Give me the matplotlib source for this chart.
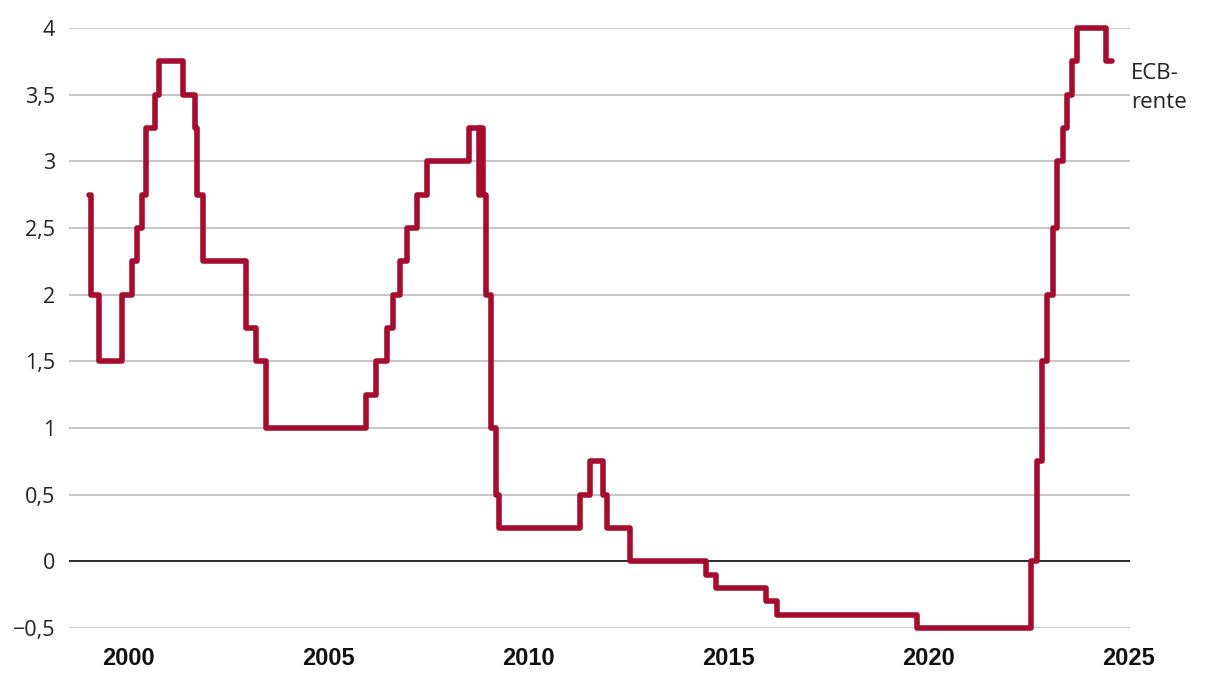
import pandas as pd
import matplotlib
matplotlib.use("Agg")
import matplotlib.pyplot as plt
import matplotlib.dates as mdates
from matplotlib.ticker import FuncFormatter

# ECB deposit rate, change dates and new level
dates = [
    "1999-01-01", "1999-01-22", "1999-04-09", "1999-11-05", "2000-02-04",
    "2000-03-17", "2000-04-28", "2000-06-09", "2000-09-01", "2000-10-06",
    "2001-05-11", "2001-08-31", "2001-09-18", "2001-11-09", "2002-12-06",
    "2003-03-07", "2003-06-06", "2005-12-06", "2006-03-08", "2006-06-15",
    "2006-08-09", "2006-10-11", "2006-12-13", "2007-03-14", "2007-06-13",
    "2008-07-09", "2008-10-08", "2008-10-09", "2008-11-12", "2008-12-10",
    "2009-01-21", "2009-03-11", "2009-04-08", "2011-04-13", "2011-07-13",
    "2011-11-09", "2011-12-14", "2012-07-11", "2014-06-11", "2014-09-10",
    "2015-12-09", "2016-03-16", "2019-09-18", "2022-07-27", "2022-09-14",
    "2022-11-02", "2022-12-21", "2023-02-08", "2023-03-22", "2023-05-10",
    "2023-06-21", "2023-08-02", "2023-09-20", "2024-06-12", "2024-07-31",
]
rates = [
    2.75, 2.00, 1.50, 2.00, 2.25,
    2.50, 2.75, 3.25, 3.50, 3.75,
    3.50, 3.25, 2.75, 2.25, 1.75,
    1.50, 1.00, 1.25, 1.50, 1.75,
    2.00, 2.25, 2.50, 2.75, 3.00,
    3.25, 2.75, 3.25, 2.75, 2.00,
    1.00, 0.50, 0.25, 0.50, 0.75,
    0.50, 0.25, 0.00, -0.10, -0.20,
    -0.30, -0.40, -0.50, 0.00, 0.75,
    1.50, 2.00, 2.50, 3.00, 3.25,
    3.50, 3.75, 4.00, 3.75, 3.75,
]
y_ticks = [-0.5, 0, 0.5, 1, 1.5, 2, 2.5, 3, 3.5, 4]
x_years = [2000, 2005, 2010, 2015, 2020, 2025]

x = pd.to_datetime(dates)

fig = plt.figure(figsize=(12.2, 6.78), dpi=100)
ax = fig.add_axes([0.0566, 0.0737, 0.8697, 0.885])

red = "#a50d2f"
ax.step(x, rates, where="post", color=red, lw=4.0, solid_joinstyle="round",
        solid_capstyle="round", clip_on=False, zorder=3)

ax.set_ylim(-0.5, 4)
ax.set_xlim(pd.Timestamp("1998-07-05"), pd.Timestamp("2025-01-15"))

ax.set_yticks(y_ticks)
ax.yaxis.set_major_formatter(FuncFormatter(
    lambda v, p: ("%g" % v).replace(".", ",").replace("-", "\u2212")))
ax.grid(axis="y", color="#c0c0c0", lw=1.3)
ax.set_axisbelow(True)
ax.axhline(0, color="#2a2a2a", lw=1.4, zorder=2.5)

ax.set_xticks([pd.Timestamp(f"{y}-01-01") for y in x_years])
ax.xaxis.set_major_formatter(mdates.DateFormatter("%Y"))

for s in ax.spines.values():
    s.set_visible(False)
ax.tick_params(axis="both", length=0)
ax.tick_params(axis="y", pad=10)
ax.tick_params(axis="x", pad=14)

for lab in ax.get_yticklabels():
    lab.set_family(["Open Sans", "DejaVu Sans"])
    lab.set_fontsize(15.5)
    lab.set_color("#222222")
for lab in ax.get_xticklabels():
    lab.set_family(["Liberation Sans Narrow", "Liberation Sans", "DejaVu Sans"])
    lab.set_fontweight("bold")
    lab.set_fontsize(17)
    lab.set_color("#111111")

ax.text(1.001, 0.9, "ECB-\nrente", transform=ax.transAxes, ha="left", va="center",
        fontsize=16, family=["Open Sans", "DejaVu Sans"], color="#222222",
        linespacing=1.45)

fig.savefig("out.png", dpi=100)
